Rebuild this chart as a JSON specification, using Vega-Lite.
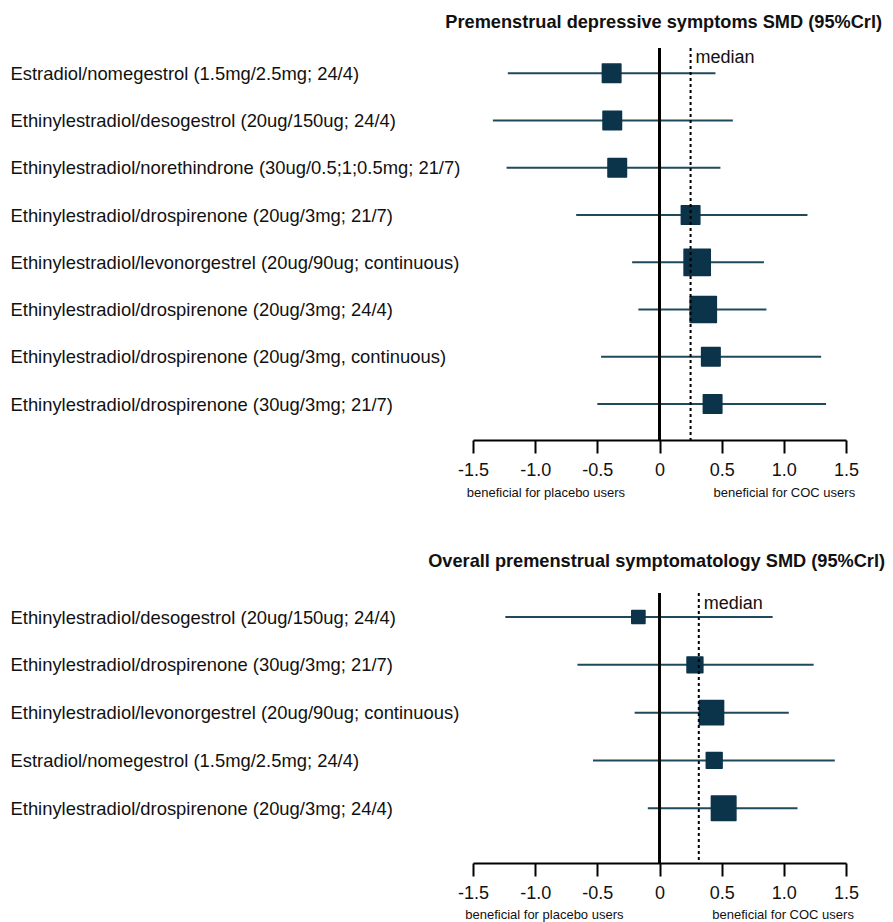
{
  "$schema": "https://vega.github.io/schema/vega-lite/v6.json",
  "padding": {"left": 10, "top": 12, "right": 5, "bottom": 5},
  "background": "white",
  "config": {
    "view": {"stroke": null},
    "font": "Liberation Sans",
    "axis": {"labelFont": "Liberation Sans", "grid": false}
  },
  "datasets": {
    "dep": [
      {"treatment": "Estradiol/nomegestrol (1.5mg/2.5mg; 24/4)", "smd": -0.385, "low": -1.22, "high": 0.45, "weight": 3.42},
      {"treatment": "Ethinylestradiol/desogestrol (20ug/150ug; 24/4)", "smd": -0.38, "low": -1.34, "high": 0.59, "weight": 3.42},
      {"treatment": "Ethinylestradiol/norethindrone (30ug/0.5;1;0.5mg; 21/7)", "smd": -0.34, "low": -1.23, "high": 0.49, "weight": 3.42},
      {"treatment": "Ethinylestradiol/drospirenone (20ug/3mg; 21/7)", "smd": 0.25, "low": -0.67, "high": 1.19, "weight": 3.42},
      {"treatment": "Ethinylestradiol/levonorgestrel (20ug/90ug; continuous)", "smd": 0.303, "low": -0.22, "high": 0.84, "weight": 6.86},
      {"treatment": "Ethinylestradiol/drospirenone (20ug/3mg; 24/4)", "smd": 0.352, "low": -0.17, "high": 0.86, "weight": 6.86},
      {"treatment": "Ethinylestradiol/drospirenone (20ug/3mg, continuous)", "smd": 0.413, "low": -0.47, "high": 1.3, "weight": 3.42},
      {"treatment": "Ethinylestradiol/drospirenone (30ug/3mg; 21/7)", "smd": 0.427, "low": -0.5, "high": 1.34, "weight": 3.42}
    ],
    "dep_median": [{"median": 0.25}],
    "ov": [
      {"treatment": "Ethinylestradiol/desogestrol (20ug/150ug; 24/4)", "smd": -0.17, "low": -1.24, "high": 0.91, "weight": 1.74},
      {"treatment": "Ethinylestradiol/drospirenone (30ug/3mg; 21/7)", "smd": 0.285, "low": -0.66, "high": 1.24, "weight": 2.5},
      {"treatment": "Ethinylestradiol/levonorgestrel (20ug/90ug; continuous)", "smd": 0.418, "low": -0.2, "high": 1.04, "weight": 5.86},
      {"treatment": "Estradiol/nomegestrol (1.5mg/2.5mg; 24/4)", "smd": 0.44, "low": -0.535, "high": 1.41, "weight": 2.5},
      {"treatment": "Ethinylestradiol/drospirenone (20ug/3mg; 24/4)", "smd": 0.516, "low": -0.094, "high": 1.11, "weight": 6.0}
    ],
    "ov_median": [{"median": 0.316}]
  },
  "spacing": 52,
  "vconcat": [
    {
      "width": 373,
      "height": 392,
      "title": {"text": "Premenstrual depressive symptoms SMD (95%Crl)", "anchor": "end", "frame": "group", "dx": 36, "fontSize": 18.2, "fontWeight": "bold", "font": "Liberation Sans", "color": "#111111", "offset": 15},
      "data": {"name": "dep"},
      "resolve": {"axis": {"x": "independent"}},
      "layer": [
        {
          "mark": {"type": "rule", "color": "#1f4a5e", "strokeWidth": 2},
          "encoding": {
            "y": {"field": "treatment", "type": "nominal",
              "scale": {"type": "point", "padding": 0.649, "align": 0.413,
                "domain": ["Estradiol/nomegestrol (1.5mg/2.5mg; 24/4)", "Ethinylestradiol/desogestrol (20ug/150ug; 24/4)", "Ethinylestradiol/norethindrone (30ug/0.5;1;0.5mg; 21/7)", "Ethinylestradiol/drospirenone (20ug/3mg; 21/7)", "Ethinylestradiol/levonorgestrel (20ug/90ug; continuous)", "Ethinylestradiol/drospirenone (20ug/3mg; 24/4)", "Ethinylestradiol/drospirenone (20ug/3mg, continuous)", "Ethinylestradiol/drospirenone (30ug/3mg; 21/7)"]},
              "axis": {"title": null, "domain": false, "ticks": false, "tickSize": 0, "labelAlign": "left", "labelPadding": 463, "labelFontSize": 18.4, "labelLimit": 700, "labelColor": "#111111", "labelBaseline": "middle"}},
            "x": {"field": "low", "type": "quantitative",
              "scale": {"domain": [-1.5, 1.5], "nice": false, "zero": false},
              "axis": {"orient": "bottom", "title": null, "values": [-1.5, -1, -0.5, 0, 0.5, 1, 1.5],
                "labelExpr": "datum.value == 0 ? '0' : (datum.value < 0 ? '-' + format(-datum.value, '.1f') : format(datum.value, '.1f'))",
                "domainColor": "black", "domainWidth": 2, "tickColor": "black", "tickWidth": 2, "tickSize": 13,
                "labelFontSize": 18, "labelColor": "#111111", "labelPadding": 8, "labelFlush": false, "labelOverlap": false}},
            "x2": {"field": "high"}
          }
        },
        {
          "mark": {"type": "point", "shape": "square", "filled": true, "fill": "#0b3349", "stroke": "#0b3349", "strokeWidth": 1.5, "strokeJoin": "round", "opacity": 1},
          "encoding": {
            "y": {"field": "treatment", "type": "nominal"},
            "x": {"field": "smd", "type": "quantitative", "axis": null},
            "size": {"field": "weight", "type": "quantitative", "scale": {"domain": [0, 10], "range": [0, 1000]}, "legend": null}
          }
        },
        {
          "mark": {"type": "rule", "color": "black", "strokeWidth": 2},
          "encoding": {
            "x": {"datum": 0, "type": "quantitative",
              "axis": {"orient": "bottom", "title": null, "values": [-0.918, 1.0],
                "labelExpr": "datum.value < 0 ? 'beneficial for placebo users' : 'beneficial for COC users'",
                "domain": false, "ticks": false, "tickSize": 0, "labelFontSize": 13, "labelPadding": 0, "offset": 46,
                "labelColor": "#111111", "labelFlush": false, "labelOverlap": false}}
          }
        },
        {
          "data": {"name": "dep_median"},
          "mark": {"type": "rule", "color": "black", "strokeWidth": 2, "strokeDash": [3, 3]},
          "encoding": {"x": {"field": "median", "type": "quantitative", "axis": null}}
        },
        {
          "data": {"name": "dep_median"},
          "mark": {"type": "text", "text": "median", "align": "left", "baseline": "alphabetic", "dx": 5, "dy": -10, "fontSize": 18, "color": "#111111"},
          "encoding": {
            "x": {"field": "median", "type": "quantitative", "axis": null},
            "y": {"datum": "Estradiol/nomegestrol (1.5mg/2.5mg; 24/4)", "type": "nominal"}
          }
        }
      ]
    },
    {
      "width": 373,
      "height": 270,
      "title": {"text": "Overall premenstrual symptomatology SMD (95%Crl)", "anchor": "end", "frame": "group", "dx": 39, "fontSize": 18.2, "fontWeight": "bold", "font": "Liberation Sans", "color": "#111111", "offset": 21},
      "data": {"name": "ov"},
      "resolve": {"axis": {"x": "independent"}},
      "layer": [
        {
          "mark": {"type": "rule", "color": "#1f4a5e", "strokeWidth": 2},
          "encoding": {
            "y": {"field": "treatment", "type": "nominal",
              "scale": {"type": "point", "padding": 0.824, "align": 0.305,
                "domain": ["Ethinylestradiol/desogestrol (20ug/150ug; 24/4)", "Ethinylestradiol/drospirenone (30ug/3mg; 21/7)", "Ethinylestradiol/levonorgestrel (20ug/90ug; continuous)", "Estradiol/nomegestrol (1.5mg/2.5mg; 24/4)", "Ethinylestradiol/drospirenone (20ug/3mg; 24/4)"]},
              "axis": {"title": null, "domain": false, "ticks": false, "tickSize": 0, "labelAlign": "left", "labelPadding": 463, "labelFontSize": 18.4, "labelLimit": 700, "labelColor": "#111111", "labelBaseline": "middle"}},
            "x": {"field": "low", "type": "quantitative",
              "scale": {"domain": [-1.5, 1.5], "nice": false, "zero": false},
              "axis": {"orient": "bottom", "title": null, "values": [-1.5, -1, -0.5, 0, 0.5, 1, 1.5],
                "labelExpr": "datum.value == 0 ? '0' : (datum.value < 0 ? '-' + format(-datum.value, '.1f') : format(datum.value, '.1f'))",
                "domainColor": "black", "domainWidth": 2, "tickColor": "black", "tickWidth": 2, "tickSize": 13,
                "labelFontSize": 18, "labelColor": "#111111", "labelPadding": 8, "labelFlush": false, "labelOverlap": false}},
            "x2": {"field": "high"}
          }
        },
        {
          "mark": {"type": "point", "shape": "square", "filled": true, "fill": "#0b3349", "stroke": "#0b3349", "strokeWidth": 1.5, "strokeJoin": "round", "opacity": 1},
          "encoding": {
            "y": {"field": "treatment", "type": "nominal"},
            "x": {"field": "smd", "type": "quantitative", "axis": null},
            "size": {"field": "weight", "type": "quantitative", "scale": {"domain": [0, 10], "range": [0, 1000]}, "legend": null}
          }
        },
        {
          "mark": {"type": "rule", "color": "black", "strokeWidth": 2},
          "encoding": {
            "x": {"datum": 0, "type": "quantitative",
              "axis": {"orient": "bottom", "title": null, "values": [-0.93, 0.99],
                "labelExpr": "datum.value < 0 ? 'beneficial for placebo users' : 'beneficial for COC users'",
                "domain": false, "ticks": false, "tickSize": 0, "labelFontSize": 13, "labelPadding": 0, "offset": 45,
                "labelColor": "#111111", "labelFlush": false, "labelOverlap": false}}
          }
        },
        {
          "data": {"name": "ov_median"},
          "mark": {"type": "rule", "color": "black", "strokeWidth": 2, "strokeDash": [3, 3]},
          "encoding": {"x": {"field": "median", "type": "quantitative", "axis": null}}
        },
        {
          "data": {"name": "ov_median"},
          "mark": {"type": "text", "text": "median", "align": "left", "baseline": "alphabetic", "dx": 5, "dy": -8, "fontSize": 18, "color": "#111111"},
          "encoding": {
            "x": {"field": "median", "type": "quantitative", "axis": null},
            "y": {"datum": "Ethinylestradiol/desogestrol (20ug/150ug; 24/4)", "type": "nominal"}
          }
        }
      ]
    }
  ]
}
